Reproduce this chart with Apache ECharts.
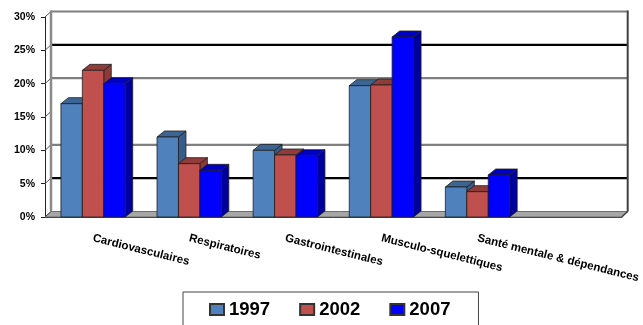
<!DOCTYPE html>
<html>
<head>
<meta charset="utf-8">
<script src="https://cdn.jsdelivr.net/npm/echarts@6/dist/echarts.min.js"></script>
<style>
  html, body { margin: 0; padding: 0; background: #fff; }
  #chart { width: 643px; height: 325px; }
</style>
</head>
<body>
<div id="chart"></div>
<script>
// Share of cases by disease group, three survey years
const categories = ['Cardiovasculaires', 'Respiratoires', 'Gastrointestinales', 'Musculo-squelettiques', 'Santé mentale & dépendances', ''];
const years = ['1997', '2002', '2007'];
const share1997 = [17, 12, 10, 19.7, 4.5, null];
const share2002 = [22, 8, 9.3, 19.8, 3.8, null];
const share2007 = [20, 7, 9.2, 27, 6.3, null];
const yTicks = [0, 5, 10, 15, 20, 25, 30];

// Back-wall gridlines: level -> colour
const wallLines = [
  { level: 5, color: '#000000' },
  { level: 10, color: '#808080' },
  { level: 20, color: '#808080' },
  { level: 25, color: '#000000' },
  { level: 30, color: '#808080' }
];

// Face colours of the 3D columns: front, top, side
const palette = [
  { front: '#4F81BD', top: '#3D6593', side: '#385D8A' },
  { front: '#C0504D', top: '#8F3C3A', side: '#8C3A38' },
  { front: '#0000FF', top: '#0000C4', side: '#00009E' }
];
const seriesValues = [share1997, share2002, share2007];

const BAR_FRAC = 0.223;          // column width as a share of the category band
const BAR_DEPTH = [7.5, -6];     // oblique offset of the column depth
const WALL_DEPTH = [6, -5.5];    // oblique offset of the back wall
const FONT = 'Liberation Sans, Arial, sans-serif';

const chart = echarts.init(document.getElementById('chart'), null, { renderer: 'canvas' });

function frameRenderer(params, api) {
  const cs = params.coordSys;
  const x0 = cs.x, x1 = cs.x + cs.width;
  const yb = api.coord([0, 0])[1];
  const dx = WALL_DEPTH[0], dy = WALL_DEPTH[1];
  const children = [];
  // floor
  children.push({
    type: 'polygon',
    shape: { points: [[x0, yb], [x1, yb], [x1 + dx, yb + dy], [x0 + dx, yb + dy]] },
    style: { fill: '#A6A6A6', stroke: '#6E6E6E', lineWidth: 1 }
  });
  // side-wall diagonals at every tick
  yTicks.forEach(function (t) {
    const y = api.coord([0, t])[1];
    children.push({
      type: 'line',
      shape: { x1: x0, y1: y, x2: x0 + dx, y2: y + dy },
      style: { stroke: '#555', lineWidth: 1 }
    });
  });
  // back-wall gridlines
  wallLines.forEach(function (g) {
    const y = api.coord([0, g.level])[1] + dy;
    children.push({
      type: 'line',
      shape: { x1: x0 + dx, y1: y, x2: x1 + dx, y2: y },
      style: { stroke: g.color, lineWidth: 2.2 }
    });
  });
  const yTop = api.coord([0, yTicks[yTicks.length - 1]])[1] + dy;
  // left and right edges of the back wall
  children.push({
    type: 'line',
    shape: { x1: x0 + dx, y1: yTop - 1, x2: x0 + dx, y2: yb + dy },
    style: { stroke: '#8A8A8A', lineWidth: 2.5 }
  });
  children.push({
    type: 'line',
    shape: { x1: x1 + dx, y1: yTop - 1, x2: x1 + dx, y2: yb + dy },
    style: { stroke: '#404040', lineWidth: 2 }
  });
  children.push({
    type: 'line',
    shape: { x1: x1 + dx, y1: yb + dy, x2: x1, y2: yb },
    style: { stroke: '#404040', lineWidth: 1.5 }
  });
  return { type: 'group', children: children };
}

function columnRenderer(sIdx) {
  const col = palette[sIdx];
  return function (params, api) {
    const i = api.value(0);
    const v = api.value(1);
    const base = api.coord([i, 0]);
    const top = api.coord([i, v]);
    const band = api.size([1, 0])[0];
    const w = band * BAR_FRAC;
    const x0 = base[0] + (sIdx - 1.5) * w;
    const x1 = x0 + w;
    const yb = base[1], yt = top[1];
    const dx = BAR_DEPTH[0], dy = BAR_DEPTH[1];
    const edge = { stroke: '#1E1E1E', lineWidth: 0.8 };
    return {
      type: 'group',
      children: [
        {
          type: 'polygon',
          shape: { points: [[x1, yb], [x1 + dx, yb + dy], [x1 + dx, yt + dy], [x1, yt]] },
          style: Object.assign({ fill: col.side }, edge)
        },
        {
          type: 'polygon',
          shape: { points: [[x0, yt], [x1, yt], [x1 + dx, yt + dy], [x0 + dx, yt + dy]] },
          style: Object.assign({ fill: col.top }, edge)
        },
        {
          type: 'rect',
          shape: { x: x0, y: yt, width: w, height: yb - yt },
          style: Object.assign({ fill: col.front }, edge)
        }
      ]
    };
  };
}

const columnSeries = years.map(function (name, s) {
  const data = [];
  seriesValues[s].forEach(function (v, i) { if (v !== null) data.push([i, v]); });
  return {
    name: name,
    type: 'custom',
    renderItem: columnRenderer(s),
    itemStyle: { color: palette[s].front, borderColor: '#333', borderWidth: 1 },
    encode: { x: 0, y: 1 },
    data: data,
    z: 3,
    silent: true
  };
});

const option = {
  animation: false,
  backgroundColor: '#fff',
  textStyle: { fontFamily: FONT },
  grid: { left: 45, right: 19, top: 17, bottom: 108 },
  xAxis: {
    type: 'category', data: categories,
    axisLine: { lineStyle: { color: '#222', width: 1 } },
    axisTick: { length: 4, lineStyle: { color: '#222' } },
    axisLabel: {
      interval: 0, rotate: -14, margin: 21,
      fontSize: 11.5, fontWeight: 'bold', color: '#000', fontFamily: FONT
    },
    splitLine: { show: false }
  },
  yAxis: {
    type: 'value', min: 0, max: 30, interval: 5,
    axisLine: { show: true, lineStyle: { color: '#222', width: 1 } },
    axisTick: { show: true, length: 4, lineStyle: { color: '#222' } },
    axisLabel: {
      formatter: '{value}%', margin: 10,
      fontSize: 10.5, fontWeight: 'bold', color: '#000', fontFamily: FONT
    },
    splitLine: { show: false }
  },
  legend: {
    data: years,
    left: 183, top: 292,
    orient: 'horizontal',
    icon: 'rect',
    itemWidth: 14, itemHeight: 11,
    itemGap: 29,
    padding: [8, 28, 20, 26],
    borderColor: '#444', borderWidth: 1,
    textStyle: {
      fontSize: 18.5, fontWeight: 'bold', color: '#000', fontFamily: FONT
    }
  },
  series: [
    {
      name: 'frame', type: 'custom',
      renderItem: frameRenderer, data: [[0, 0]], z: 1, silent: true
    }
  ].concat(columnSeries)
};

chart.setOption(option);
</script>
</body>
</html>
